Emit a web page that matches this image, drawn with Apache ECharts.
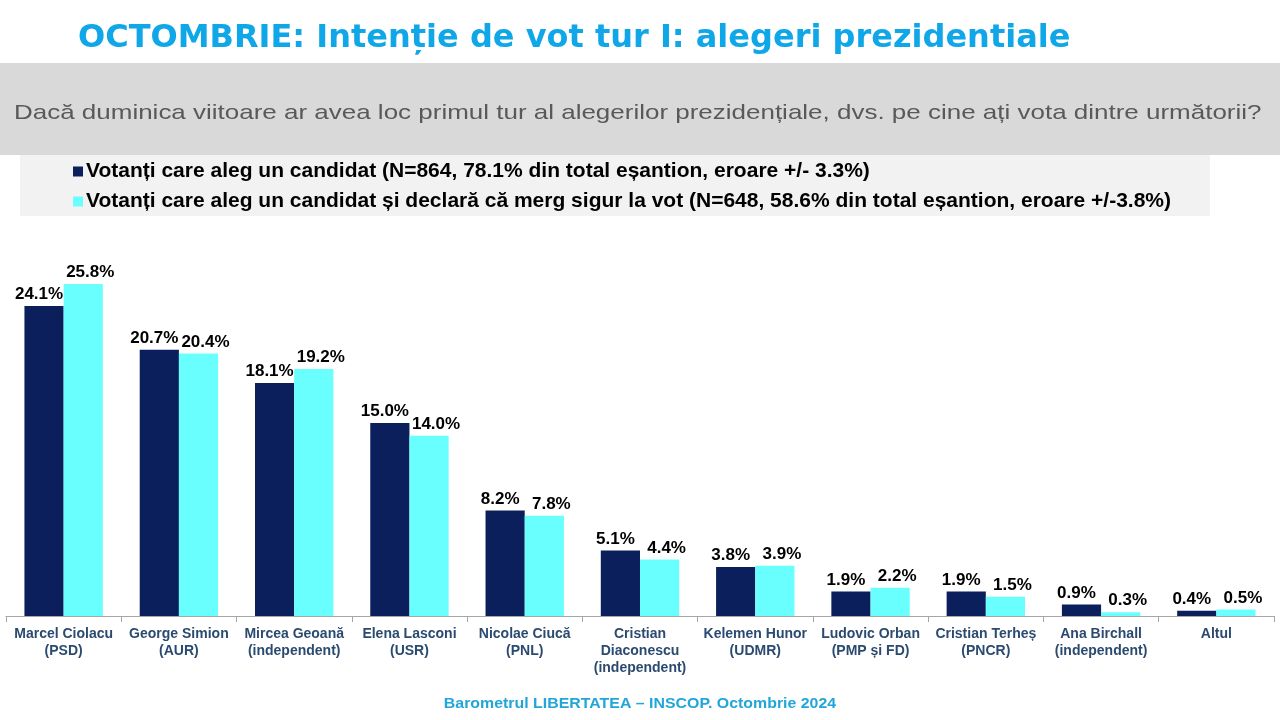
<!doctype html>
<html>
<head>
<meta charset="UTF-8">
<title>Intenție de vot - octombrie 2024</title>
<script src="https://cdn.jsdelivr.net/npm/echarts@6/dist/echarts.min.js"></script>
<style>
  html, body { margin: 0; padding: 0; background: #fff; }
  #main { width: 1280px; height: 720px; }
</style>
</head>
<body>
<div id="main"></div>
<script>
var candidates = [
  'Marcel Ciolacu\n(PSD)', 'George Simion\n(AUR)', 'Mircea Geoană\n(independent)',
  'Elena Lasconi\n(USR)', 'Nicolae Ciucă\n(PNL)', 'Cristian\nDiaconescu\n(independent)',
  'Kelemen Hunor\n(UDMR)', 'Ludovic Orban\n(PMP și FD)', 'Cristian Terheș\n(PNCR)',
  'Ana Birchall\n(independent)', 'Altul'
];
var allVoters = [24.1, 20.7, 18.1, 15.0, 8.2, 5.1, 3.8, 1.9, 1.9, 0.9, 0.4];
var sureVoters = [25.8, 20.4, 19.2, 14.0, 7.8, 4.4, 3.9, 2.2, 1.5, 0.3, 0.5];
var seriesNames = [
  'Votanți care aleg un candidat (N=864, 78.1% din total eșantion, eroare +/- 3.3%)',
  'Votanți care aleg un candidat și declară că merg sigur la vot (N=648, 58.6% din total eșantion, eroare +/-3.8%)'
];
var question = 'Dacă duminica viitoare ar avea loc primul tur al alegerilor prezidențiale, dvs. pe cine ați vota dintre următorii?';
var source = 'Barometrul LIBERTATEA – INSCOP. Octombrie 2024';

var chart = echarts.init(document.getElementById('main'));
var font = '"Liberation Sans", Arial, sans-serif';

function barSeries(name, data, color, shift) {
  return {
    name: name,
    type: 'bar',
    data: data,
    barGap: '0%',
    barCategoryGap: '32%',
    itemStyle: { color: color },
    label: {
      show: true,
      position: 'top',
      distance: 3,
      offset: [shift, 0],   // push the two labels apart a little
      formatter: function (p) { return p.value.toFixed(1) + '%'; },
      color: '#000',
      fontFamily: font,
      fontWeight: 'bold',
      fontSize: 17
    }
  };
}

chart.setOption({
  backgroundColor: '#fff',
  animation: false,
  graphic: [
    { type: 'rect', shape: { x: 0, y: 63, width: 1280, height: 92 }, style: { fill: '#d9d9d9' }, z: -10 },
    { type: 'rect', shape: { x: 20, y: 155, width: 1190, height: 61 }, style: { fill: '#f2f2f2' }, z: -10 },
    // the slide text is stretched sideways, so scale it a bit
    {
      type: 'text', x: 14, y: 113, scaleX: 1.237,
      style: { text: question, font: '21px "Liberation Sans", Arial, sans-serif', fill: '#595959', textVerticalAlign: 'middle' }
    },
    {
      type: 'text', x: 640, y: 704, scaleX: 1.06,
      style: { text: source, font: 'bold 15px "Liberation Sans", Arial, sans-serif', fill: '#22a6d9', textAlign: 'center', textVerticalAlign: 'middle' }
    }
  ],
  title: {
    text: 'OCTOMBRIE: Intenție de vot tur I: alegeri prezidentiale',
    left: 73, top: 18,
    textStyle: { color: '#0fa7e8', fontFamily: '"DejaVu Sans", Verdana, sans-serif', fontWeight: 'bold', fontSize: 32 }
  },
  legend: {
    orient: 'vertical',
    left: 68, top: 156,
    itemWidth: 10, itemHeight: 10, itemGap: 9,
    icon: 'rect',
    textStyle: { color: '#000', fontFamily: font, fontWeight: 'bold', fontSize: 21, padding: [0, 0, 0, -2] },
    data: seriesNames
  },
  grid: { left: 6, right: 6, top: 230, bottom: 104, containLabel: false },
  xAxis: {
    type: 'category',
    data: candidates,
    axisLine: { lineStyle: { color: '#a6a6a6' } },
    axisTick: { show: true, length: 6, lineStyle: { color: '#a6a6a6' } },
    axisLabel: {
      interval: 0,
      margin: 10,
      color: '#2b4a70',
      fontFamily: font,
      fontWeight: 'bold',
      fontSize: 14,
      lineHeight: 17
    }
  },
  yAxis: {
    type: 'value',
    min: 0, max: 30,
    show: false,
    splitLine: { show: false }
  },
  series: [
    barSeries(seriesNames[0], allVoters, '#0b1f5c', -5),
    barSeries(seriesNames[1], sureVoters, '#6affff', 7)
  ]
});
</script>
</body>
</html>
